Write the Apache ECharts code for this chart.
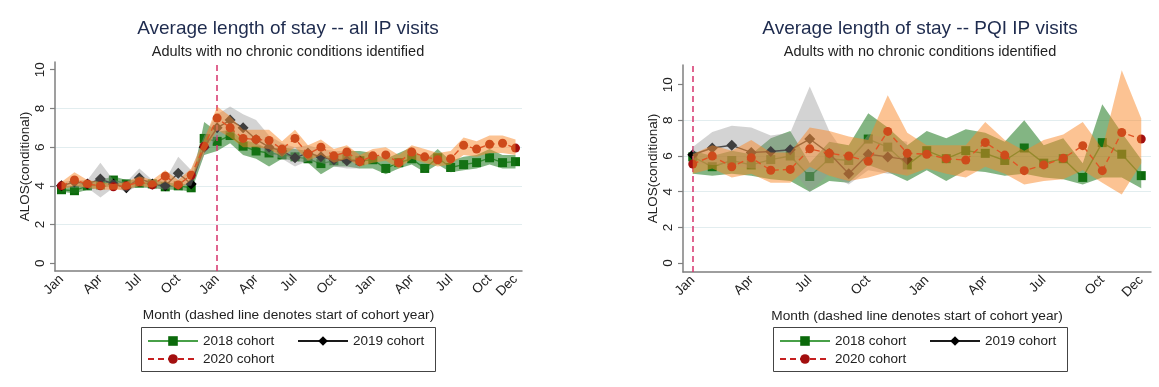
<!DOCTYPE html>
<html>
<head>
<meta charset="utf-8">
<script src="https://cdn.jsdelivr.net/npm/echarts@6/dist/echarts.min.js"></script>
<style>
  html, body { margin: 0; padding: 0; background: #ffffff; }
  #chart { width: 1159px; height: 387px; }
</style>
</head>
<body>
<div id="chart"></div>
<script>
// ---- month axes -----------------------------------------------------------
const MONTHS = ['Jan','Feb','Mar','Apr','May','Jun','Jul','Aug','Sep','Oct','Nov','Dec'];
const monthsAllIP = [...MONTHS, ...MONTHS, ...MONTHS];   // 36 months, cohort year starts at index 12
const monthsPQI = [...MONTHS, ...MONTHS];                // 24 months, cohort year starts at index 0
const yTickValues = [0, 2, 4, 6, 8, 10];
const cohortNames = ['2018 cohort', '2019 cohort', '2020 cohort'];

// ---- ALOS, all IP visits (36 months) --------------------------------------
const allIP2018 = [3.8,3.75,4.0,4.05,4.3,4.1,4.15,4.1,3.95,4.0,3.9,6.45,6.3,6.6,6.05,5.8,5.7,5.6,5.5,5.4,5.15,5.3,5.4,5.3,5.35,4.9,5.2,5.4,4.9,5.45,4.95,5.1,5.2,5.45,5.2,5.25];
const allIP2018Lo = [3.7,3.6,3.8,3.9,4.0,3.9,3.9,3.9,3.8,3.8,3.7,5.6,5.8,6.2,5.6,5.4,5.0,5.4,5.3,5.2,4.6,5.0,5.0,4.9,4.9,4.6,4.9,5.1,4.7,5.1,4.7,4.8,4.9,5.1,4.9,4.9];
const allIP2018Hi = [4.0,4.0,4.2,4.3,4.5,4.3,4.3,4.3,4.2,4.1,4.1,7.3,6.8,6.9,6.4,6.2,5.9,6.0,5.9,5.8,5.5,5.6,5.8,5.8,5.7,5.4,5.7,6.0,5.3,5.9,5.3,5.5,5.6,5.9,5.6,5.6];

const allIP2019 = [4.0,4.2,4.1,4.35,4.1,3.9,4.4,4.1,4.0,4.65,4.1,6.0,7.0,7.4,7.0,6.4,6.0,5.8,5.45,5.7,5.5,5.35,5.3,5.3];
const allIP2019Lo = [3.9,3.9,3.9,3.4,3.9,3.7,4.0,3.9,3.8,4.0,4.0,5.6,6.5,6.8,6.5,6.1,5.6,5.4,5.0,5.3,5.2,5.0,4.9,4.9];
const allIP2019Hi = [4.2,4.3,4.3,5.2,4.3,4.2,4.9,4.3,4.3,5.5,4.8,6.6,7.7,8.1,7.7,7.4,6.6,6.2,6.0,6.1,5.9,5.8,5.8,5.7];

const allIP2020 = [4.0,4.3,4.1,4.0,3.95,4.0,4.2,4.05,4.5,4.05,4.55,6.05,7.5,7.0,6.45,6.4,6.35,5.9,6.45,5.65,6.0,5.55,5.75,5.25,5.55,5.6,5.2,5.75,5.5,5.35,5.4,6.1,5.9,6.15,6.2,5.95];
const allIP2020Lo = [3.8,4.0,3.9,3.8,3.8,3.8,4.0,3.9,4.2,3.8,4.3,5.7,6.9,6.5,6.0,6.0,5.9,5.5,6.0,5.3,5.6,5.2,5.4,5.0,5.2,5.3,4.9,5.4,5.2,5.0,5.1,5.6,5.5,5.7,5.7,5.6];
const allIP2020Hi = [4.2,4.7,4.3,4.2,4.1,4.2,4.5,4.3,4.8,4.3,4.9,6.4,8.1,7.6,6.9,6.9,6.9,6.3,6.9,6.1,6.4,5.9,6.1,5.6,5.9,6.0,5.6,6.1,5.9,5.7,5.8,6.5,6.3,6.6,6.6,6.4];

// ---- ALOS, PQI IP visits (24 months) --------------------------------------
const pqi2018 = [5.95,5.4,5.75,5.5,5.8,6.0,4.85,5.85,5.75,6.95,6.5,5.5,6.3,5.85,6.3,6.15,5.75,6.45,5.6,5.85,4.8,6.75,6.1,4.9];
const pqi2018Lo = [5.0,4.9,5.0,4.9,4.7,4.6,4.0,4.6,4.5,5.5,5.1,4.6,5.2,4.6,5.2,5.1,4.9,5.0,4.8,4.7,4.4,4.8,4.8,4.2];
const pqi2018Hi = [6.3,6.0,6.3,6.1,7.0,7.4,5.6,6.8,6.6,8.4,7.6,6.6,7.4,7.0,7.5,7.3,6.8,8.0,6.6,7.0,5.6,8.9,7.3,5.8];

const pqi2019 = [6.07,6.45,6.6,6.2,6.25,6.35,6.95,6.15,5.0,6.1,5.95,5.8];
const pqi2019Lo = [5.6,5.5,5.5,5.3,5.3,5.4,4.0,5.0,4.4,5.2,5.0,5.0];
const pqi2019Hi = [6.5,7.35,7.7,7.6,7.15,7.3,9.9,7.4,5.8,7.2,7.0,6.8];

const pqi2020 = [5.55,6.0,5.4,5.9,5.2,5.25,6.4,6.15,6.0,5.7,7.38,6.15,6.1,5.85,5.77,6.76,6.05,5.18,5.5,5.87,6.58,5.18,7.32,6.95];
const pqi2020Lo = [5.0,5.3,4.8,5.0,4.5,4.5,5.4,4.9,4.6,4.8,5.1,4.9,5.3,5.0,4.8,5.4,5.0,4.4,4.6,4.7,5.2,4.5,3.85,5.6];
const pqi2020Hi = [6.1,6.6,6.3,6.9,6.2,6.2,7.6,7.4,7.1,6.9,9.4,7.3,6.6,6.6,6.6,7.9,6.9,6.3,6.9,7.2,7.9,6.4,10.8,8.1];

// ---- styling ----------------------------------------------------------------
const FONT = '"Liberation Sans", Arial, Helvetica, sans-serif';
const TEXT = '#222222';
const AXIS = '#7f7f7f';
const COHORT = {
  '2018 cohort': { line: '#48a048', mark: '#0b6a0b', symbol: 'rect', size: 9, dash: 'solid', band: 'rgba(30,120,30,0.55)' },
  '2019 cohort': { line: '#1a1a1a', mark: '#000000', symbol: 'diamond', size: 11, dash: 'solid', band: 'rgba(150,150,150,0.42)' },
  '2020 cohort': { line: '#c62020', mark: '#a30f0f', symbol: 'circle', size: 9, dash: [6, 4], band: 'rgba(250,135,40,0.5)' }
};

function cohortLine(name, data, gi, z) {
  const c = COHORT[name];
  return {
    type: 'line', name, data, xAxisIndex: gi, yAxisIndex: gi, z,
    symbol: c.symbol, symbolSize: c.size, showAllSymbol: true,
    itemStyle: { color: c.mark },
    lineStyle: { color: c.line, width: 1.4, type: c.dash },
    emphasis: { disabled: true }, silent: true
  };
}

// confidence band: invisible lower bound with the width stacked on top of it
function band(name, lo, hi, gi, z, extra) {
  const key = name + ' band ' + gi;
  const base = {
    type: 'line', name: key + ' lo', stack: key, data: lo, xAxisIndex: gi, yAxisIndex: gi, z,
    symbol: 'none', lineStyle: { opacity: 0 }, emphasis: { disabled: true }, silent: true
  };
  const top = Object.assign({
    type: 'line', name: key + ' hi', stack: key,
    data: hi.map((h, i) => +(h - lo[i]).toFixed(3)), xAxisIndex: gi, yAxisIndex: gi, z,
    symbol: 'none', lineStyle: { opacity: 0 },
    areaStyle: { color: COHORT[name].band, opacity: 1 },
    emphasis: { disabled: true }, silent: true
  }, extra || {});
  return [base, top];
}

function cohortMark(idx) {
  return {
    silent: true, symbol: 'none',
    label: { show: false },
    lineStyle: { color: '#d6336c', width: 1.5, type: [6, 4] },
    data: [{ xAxis: idx }]
  };
}

function xAxisFor(gi, months) {
  const last = months.length - 1;
  const shown = (i) => i % 3 === 0 || i === last;
  return {
    gridIndex: gi, type: 'category', data: months, boundaryGap: true,
    axisLine: { onZero: false, lineStyle: { color: AXIS, width: 1.5 } },
    axisTick: { alignWithLabel: true, interval: shown, length: 5, lineStyle: { color: AXIS, width: 1.2 } },
    axisLabel: { interval: shown, rotate: 45, fontSize: 13.5, color: TEXT, fontFamily: FONT, margin: 6 },
    splitLine: { show: false },
    name: 'Month (dashed line denotes start of cohort year)',
    nameLocation: 'middle', nameGap: 37,
    nameTextStyle: { fontSize: 13.7, color: TEXT, fontFamily: FONT }
  };
}

function yAxisFor(gi, min, max) {
  return {
    gridIndex: gi, type: 'value', min, max,
    axisLine: { show: true, lineStyle: { color: AXIS, width: 1.5 } },
    axisTick: { show: true, length: 5, customValues: yTickValues, lineStyle: { color: AXIS, width: 1.2 } },
    axisLabel: { customValues: yTickValues, rotate: 90, fontSize: 13.5, color: TEXT, fontFamily: FONT, margin: 8 },
    splitLine: { show: true, showMinLine: false, showMaxLine: false, lineStyle: { color: '#e2edef', width: 1 } },
    name: 'ALOS(conditional)', nameLocation: 'middle', nameGap: 20,
    nameTextStyle: { fontSize: 13.5, color: TEXT, fontFamily: FONT }
  };
}

function titleFor(cx, text) {
  return {
    text, subtext: 'Adults with no chronic conditions identified',
    left: cx, top: 19, textAlign: 'center', padding: 0, itemGap: 6,
    textStyle: { fontSize: 19, fontWeight: 'normal', color: '#1e2b4e', fontFamily: FONT },
    subtextStyle: { fontSize: 14.5, color: TEXT, fontFamily: FONT }
  };
}

// one legend entry per slot, laid out in two columns inside a framed box
const LEGEND_SLOTS = [[6, 7], [156, 7], [6, 25]];
function legendsFor(boxLeft, boxTop) {
  return cohortNames.map((name, i) => ({
    data: [name],
    left: boxLeft + LEGEND_SLOTS[i][0], top: boxTop + LEGEND_SLOTS[i][1],
    orient: 'horizontal', padding: 0,
    itemWidth: 50, itemHeight: 12, itemGap: 0,
    textStyle: { fontSize: 13.5, color: TEXT, fontFamily: FONT },
    selectedMode: false
  }));
}
function legendFrame(boxLeft, boxTop) {
  return {
    type: 'rect', silent: true,
    shape: { x: boxLeft + 0.5, y: boxTop + 0.5, width: 294, height: 44 },
    style: { fill: 'none', stroke: '#444', lineWidth: 1 }
  };
}

const series = [
  // all IP visits
  cohortLine('2018 cohort', allIP2018, 0, 2),
  ...band('2018 cohort', allIP2018Lo, allIP2018Hi, 0, 3),
  cohortLine('2019 cohort', allIP2019, 0, 4),
  ...band('2019 cohort', allIP2019Lo, allIP2019Hi, 0, 5),
  cohortLine('2020 cohort', allIP2020, 0, 6),
  ...band('2020 cohort', allIP2020Lo, allIP2020Hi, 0, 7, { markLine: cohortMark(12) }),
  // PQI IP visits
  cohortLine('2018 cohort', pqi2018, 1, 2),
  ...band('2018 cohort', pqi2018Lo, pqi2018Hi, 1, 3),
  cohortLine('2019 cohort', pqi2019, 1, 4),
  ...band('2019 cohort', pqi2019Lo, pqi2019Hi, 1, 5),
  cohortLine('2020 cohort', pqi2020, 1, 6),
  ...band('2020 cohort', pqi2020Lo, pqi2020Hi, 1, 7, { markLine: cohortMark(0) })
];

const chart = echarts.init(document.getElementById('chart'), null, { renderer: 'canvas' });
chart.setOption({
  backgroundColor: '#ffffff',
  animation: false,
  textStyle: { fontFamily: FONT },
  title: [
    titleFor(288, 'Average length of stay -- all IP visits'),
    titleFor(920, 'Average length of stay -- PQI IP visits')
  ],
  legend: [...legendsFor(141, 327), ...legendsFor(773, 327)],
  graphic: [legendFrame(141, 327), legendFrame(773, 327)],
  grid: [
    { left: 55, top: 62, width: 467, height: 209 },
    { left: 683, top: 65, width: 468, height: 207 }
  ],
  xAxis: [xAxisFor(0, monthsAllIP), xAxisFor(1, monthsPQI)],
  yAxis: [yAxisFor(0, -0.4, 10.4), yAxisFor(1, -0.5, 11.1)],
  series
});
</script>
</body>
</html>
